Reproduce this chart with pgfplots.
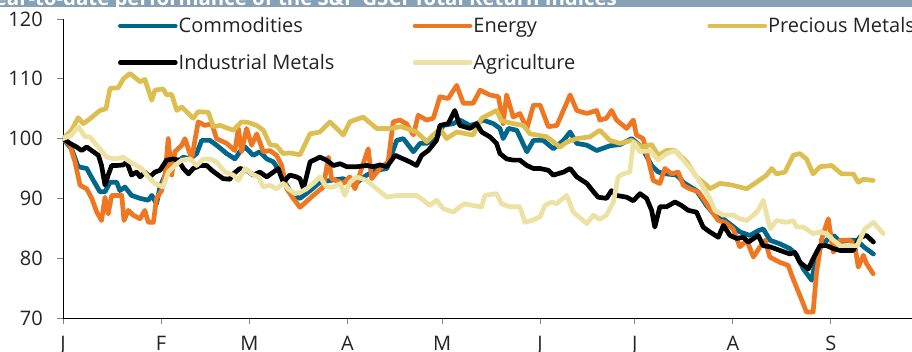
\documentclass[border=0pt]{standalone}
\usepackage{pgfplots}
\usepackage{pgfplotstable}
\pgfplotsset{compat=1.18}
\usepackage{fontspec}
\setmainfont{Open Sans}

\definecolor{commod}{RGB}{0,102,140}
\definecolor{energy}{RGB}{240,119,33}
\definecolor{precious}{RGB}{221,190,80}
\definecolor{agri}{RGB}{236,226,164}
\definecolor{titlebar}{RGB}{134,161,182}
\definecolor{labelgray}{RGB}{35,35,35}

% x = days since 1 January, y = index level (1 Jan = 100)
\pgfplotstableread{
x y
0 100
2.7 98.3
4.8 95.3
7.5 95.0
9.6 93.0
11.7 91.1
13.3 91.1
14.9 92.7
17.0 92.7
18.0 91.3
19.6 91.9
21.7 90.5
24.4 90.0
27.0 89.7
28.1 90.5
29.6 89.1
30.7 91.9
32.3 93.9
33.9 95.0
36.0 96.1
38.1 96.9
40.2 96.6
42.3 97.5
43.9 99.7
46.5 99.7
48.6 98.9
51.8 97.5
54.4 96.6
56.0 97.8
57.6 98.6
60.2 97.2
62.3 97.8
64.5 96.6
66.6 96.1
68.7 94.4
70.8 92.2
72.9 90.5
75.0 90.0
78.2 91.3
81.3 92.7
84.5 93.0
88.7 93.3
91.9 92.2
96.1 93.9
99.3 94.7
102.5 95.0
105.6 99.7
107.7 100.0
110.9 97.8
113.0 99.2
115.1 99.2
118.2 100.0
120.3 102.2
123.5 102.5
125.6 103.1
128.8 102.2
130.9 102.5
133.0 103.1
136.2 102.5
138.3 101.7
139.3 100.0
141.0 101.7
143.6 101.4
146.8 97.8
148.9 99.7
152.0 99.7
155.2 98.3
158.4 99.7
160.5 101.1
162.6 99.2
165.8 98.9
168.9 98.0
173.1 98.8
176.3 99.0
180.0 100.0
183.1 98.6
186.3 95.5
188.4 94.4
191.0 94.1
194.2 93.9
196.8 92.5
200.5 91.3
203.7 88.8
206.3 87.2
208.9 86.6
211.6 85.5
214.2 84.4
217.4 83.8
220.0 84.6
221.6 84.9
223.8 83.0
226.9 82.4
230.1 81.6
232.2 80.5
234.3 78.2
237.0 76.3
238.6 81.0
241.7 83.0
243.9 83.8
246.0 82.7
248.6 83.0
251.3 83.0
253.4 81.9
256.5 80.7
}\commodities

\pgfplotstableread{
x y
0 100
2.2 98.9
3.8 96.1
5.4 92.2
7.5 91.6
9.1 90.0
10.7 87.7
12.2 86.3
13.3 90.2
14.3 87.4
15.4 90.5
18.6 90.5
19.3 86.3
20.7 88.0
22.2 87.2
24.4 86.6
25.9 88.0
27.0 86.0
28.6 86.0
29.6 90.0
31.2 91.3
32.3 93.9
33.3 100.0
34.4 93.9
35.4 97.8
37.6 98.9
38.6 100.0
40.7 96.6
42.8 102.8
44.9 102.2
47.1 102.5
48.6 100.0
51.8 99.2
54.4 98.0
55.5 101.7
56.5 97.8
58.1 101.7
59.7 98.9
61.3 100.8
63.4 97.8
65.5 98.0
67.6 97.2
69.2 95.5
70.8 91.6
72.9 90.0
75.0 88.5
79.2 90.5
82.4 91.9
84.0 96.9
85.0 93.3
88.7 92.5
90.8 93.6
92.4 91.6
94.5 95.0
96.6 98.3
97.7 93.3
100.3 95.0
102.9 96.1
104.5 102.8
106.6 103.1
108.7 102.5
110.9 100.6
112.4 103.9
115.1 103.1
117.2 103.4
119.3 107.0
121.9 106.7
124.6 108.9
126.7 105.9
129.8 105.9
132.0 108.1
135.1 107.3
137.8 107.0
139.3 102.5
140.4 107.3
142.5 103.6
144.6 104.2
146.8 101.7
148.9 105.6
151.0 105.6
153.6 102.0
156.3 102.2
160.5 107.3
162.6 104.7
165.8 104.2
168.9 104.7
169.9 103.1
172.0 103.4
173.6 104.7
175.2 103.1
178.4 101.7
180.5 103.1
181.5 100.6
183.6 100.0
185.2 96.6
186.8 93.0
188.9 92.5
190.5 95.0
192.6 94.1
194.7 94.4
196.3 92.2
198.4 91.6
201.1 91.1
202.6 90.0
204.7 88.3
207.4 86.3
209.5 86.0
212.1 84.9
214.2 81.9
216.4 83.0
218.5 80.2
220.6 81.9
222.2 83.0
223.7 80.2
226.9 79.3
229.5 78.8
231.1 76.5
233.2 73.8
235.3 71.0
237.4 71.0
238.5 77.7
240.1 83.2
242.2 86.6
243.8 81.0
245.9 83.0
249.1 83.0
250.6 82.1
251.7 78.5
253.3 80.5
254.3 79.1
256.4 77.4
}\energy

\pgfplotstableread{
x y
0 100
2.7 101.4
4.8 103.5
6.4 102.5
8.0 103.1
11.7 104.7
13.6 105.0
14.9 108.4
17.5 108.5
19.1 110.0
21.2 110.9
22.8 110.2
24.4 109.5
25.9 109.9
28.1 106.4
29.1 108.1
31.7 108.3
32.8 107.3
34.4 107.4
36.0 104.7
37.6 105.3
39.1 104.5
41.2 103.4
42.8 104.5
46.0 104.4
47.6 102.0
49.7 102.2
53.9 101.4
56.5 102.8
58.6 102.7
61.3 102.2
63.4 101.4
65.5 99.0
67.6 98.8
69.7 97.5
71.8 97.6
75.0 97.3
78.2 100.8
81.3 101.1
84.5 102.8
88.7 100.6
90.8 102.8
95.0 103.6
99.3 101.7
103.5 101.7
107.0 102.0
111.9 101.1
115.1 99.5
119.3 101.7
121.4 100.0
124.6 101.1
129.8 100.6
132.5 103.4
137.2 104.7
138.8 103.0
142.5 102.5
145.7 102.2
147.8 100.8
153.1 100.3
157.3 98.6
159.4 99.4
162.6 100.0
166.8 100.3
169.9 101.4
173.1 99.7
176.3 99.2
180.0 99.7
183.1 98.6
186.3 99.0
188.4 97.2
191.0 98.0
193.7 98.0
197.4 96.1
200.5 93.6
203.7 92.2
204.7 91.6
207.9 92.5
211.1 92.3
216.4 91.6
219.5 92.7
222.7 93.9
224.3 95.0
225.8 94.1
228.5 94.4
231.1 97.2
233.2 97.5
235.3 96.6
237.4 94.1
239.6 95.3
243.3 95.5
246.4 94.1
250.1 94.1
251.7 92.7
253.3 93.2
256.4 93.0
}\precious

\pgfplotstableread{
x y
0 100
2.2 99.2
4.3 98.6
5.9 98.0
7.5 98.6
9.6 97.8
11.2 97.2
12.2 95.5
13.3 92.2
14.3 93.9
15.4 95.5
17.0 95.5
19.1 95.6
20.2 96.1
21.7 93.9
23.3 94.4
24.4 93.6
25.9 94.4
27.5 93.6
29.1 94.4
30.7 94.7
32.8 96.4
34.9 96.6
36.5 96.4
38.1 95.0
39.7 94.1
41.2 95.0
43.4 95.5
45.5 95.5
47.1 94.7
48.6 94.1
50.7 93.3
52.8 93.2
53.9 94.1
56.0 95.0
58.1 94.7
60.2 93.9
62.3 94.4
64.5 93.6
66.6 94.4
68.1 95.0
69.7 92.7
71.8 93.9
73.9 93.6
75.0 93.3
76.1 91.6
78.2 96.1
81.3 96.9
83.4 96.4
85.6 95.5
87.7 95.8
89.8 95.3
93.0 95.3
96.1 95.5
98.2 95.3
100.3 95.6
102.5 95.3
105.1 97.2
107.7 96.6
109.8 96.1
111.9 95.5
113.5 97.2
115.6 98.0
118.2 99.7
119.3 102.2
121.9 102.5
124.0 104.7
125.6 102.2
128.8 101.7
130.9 102.5
132.5 101.1
135.1 100.3
137.2 99.2
138.3 97.5
140.4 96.6
142.5 96.4
144.6 96.4
146.8 95.5
148.9 95.0
151.0 95.0
153.6 94.7
155.2 93.9
158.4 94.4
160.5 95.0
162.6 93.6
165.8 92.5
167.9 91.1
169.4 90.2
172.0 90.0
173.6 91.3
175.2 90.5
178.4 90.2
180.5 89.6
182.6 90.8
184.7 90.0
186.3 88.0
187.3 85.2
188.9 88.6
191.0 88.6
193.7 89.4
195.8 88.8
197.9 88.0
200.5 87.7
202.6 85.2
204.7 84.4
207.4 83.5
209.0 85.5
211.1 83.8
213.2 83.3
215.3 83.5
216.9 82.7
220.0 83.8
221.6 82.1
223.8 81.9
226.9 81.3
230.1 80.7
231.6 81.0
233.2 79.3
235.9 78.2
237.4 79.9
239.6 82.1
241.7 82.1
243.8 81.6
245.9 81.3
250.1 81.3
252.2 83.5
254.3 83.8
256.5 82.7
}\industrial

\pgfplotstableread{
x y
0 100
2.7 100.6
4.8 102.0
7.0 100.3
8.5 100.3
10.1 99.2
11.7 98.3
13.8 96.9
16.5 96.6
19.1 96.9
21.2 96.1
23.3 95.5
24.9 95.0
27.0 93.6
29.1 92.5
31.7 91.9
33.3 94.4
35.4 95.5
37.6 96.4
40.2 96.6
42.3 95.5
44.4 96.6
46.5 96.6
48.6 96.1
51.3 94.4
53.9 93.9
55.5 93.0
57.6 95.0
59.7 94.1
61.8 93.6
63.4 91.9
65.5 92.2
67.6 91.6
69.7 92.5
71.3 91.6
73.4 90.8
75.0 91.0
77.1 91.6
79.2 92.5
81.3 93.6
83.4 91.9
85.6 91.9
87.7 92.5
89.2 90.5
90.8 92.7
92.9 93.6
96.1 93.0
99.3 91.6
102.5 90.2
105.6 90.5
108.7 90.5
111.9 90.5
114.0 89.7
116.1 88.8
118.2 89.7
120.3 88.3
123.5 87.7
125.6 88.6
127.2 89.1
129.8 88.8
132.5 88.6
133.5 90.5
137.2 90.8
138.8 89.1
141.4 88.6
144.6 88.6
146.2 86.0
148.3 86.3
151.0 86.9
152.5 88.8
154.6 89.4
156.2 89.1
159.4 90.5
161.5 87.7
165.8 85.8
167.9 87.2
169.9 86.5
172.0 87.2
174.2 89.4
175.7 93.6
177.3 94.1
179.4 94.4
180.5 99.4
182.6 97.8
185.8 98.0
188.4 96.4
191.0 97.5
193.7 98.0
196.3 96.4
199.5 94.4
202.6 91.9
204.7 90.0
206.3 88.0
208.9 87.2
212.1 87.2
214.2 86.6
216.4 86.3
218.5 87.2
220.0 88.0
221.6 89.7
223.8 84.9
225.8 86.3
229.0 86.0
231.1 86.3
232.2 85.2
234.3 85.2
237.4 84.1
239.6 84.4
241.7 84.1
243.8 83.0
245.9 82.1
249.1 82.1
251.3 82.1
253.8 84.9
256.5 86.0
259.6 84.1
}\agriculture

\newcommand{\entry}[1]{\makebox[235pt][l]{\hspace*{1pt}#1}}

\begin{document}
\begin{tikzpicture}
\useasboundingbox (-63pt,-34pt) rectangle (849pt,318pt);

% title bar, cut off at the top edge
\fill[titlebar] (-63pt,311.3pt) rectangle (849pt,318pt);
\begin{scope}
  \clip (-63pt,311.3pt) rectangle (849pt,318pt);
  \node[anchor=base east, inner sep=0pt, text=white,
        font=\bfseries\fontsize{20.4}{22}\selectfont]
    at (554pt,312.5pt) {Year-to-date performance of the S\&P GSCI Total Return Indices};
\end{scope}

\begin{axis}[
  at={(0pt,0pt)}, anchor=south west,
  scale only axis, width=849pt, height=299pt,
  xmin=0, xmax=268.7, ymin=70, ymax=120,
  axis x line*=bottom, axis y line*=left,
  axis line style={black, line width=0.9pt},
  xtick={0,31,59,90,120,151,181,212,243},
  xticklabels={J,F,M,A,M,J,J,A,S},
  ytick={70,80,90,100,110,120},
  tick align=outside,
  major tick length=6pt,
  tick style={gray, line width=0.9pt},
  every tick label/.append style={font=\fontsize{20}{24}\selectfont, text=labelgray},
  /pgf/number format/assume math mode=true,
  xticklabel style={anchor=base, inner sep=0pt, yshift=-27pt},
  yticklabel style={anchor=east, inner sep=0pt, xshift=-14pt},
  legend columns=3,
  legend style={
    at={(0.0648,1.00334)}, anchor=north west,
    draw=none, fill=none, inner sep=0pt, outer sep=0pt,
    row sep=16.7pt, column sep=0pt,
    cells={anchor=west},
    nodes={inner sep=0pt, text height=15pt, text depth=5pt,
           font=\fontsize{20}{24}\selectfont, text=labelgray},
  },
  legend image code/.code={\draw[#1] (0pt,2pt) -- (55pt,2pt);},
  every axis plot/.append style={line width=4.7pt, line join=round, line cap=round},
]
\addplot[commod]     table {\commodities}; \addlegendentry{\entry{Commodities}}
\addplot[energy]     table {\energy};      \addlegendentry{\entry{Energy}}
\addplot[precious]   table {\precious};    \addlegendentry{\entry{Precious Metals}}
\addplot[black]      table {\industrial};  \addlegendentry{\entry{Industrial Metals}}
\addplot[agri]       table {\agriculture}; \addlegendentry{\entry{Agriculture}}
\end{axis}
\end{tikzpicture}
\end{document}
